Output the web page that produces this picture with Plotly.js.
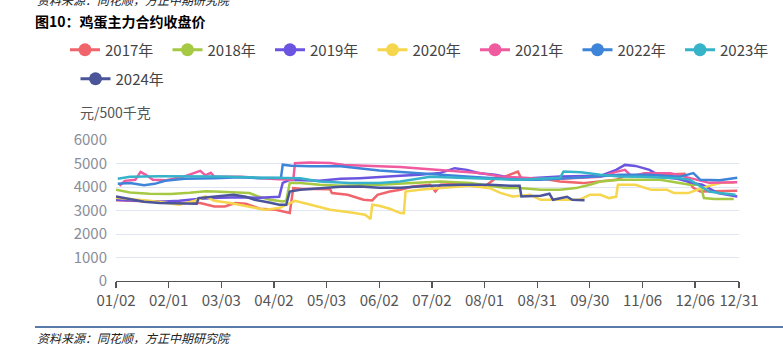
<!DOCTYPE html>
<html>
<head>
<meta charset="utf-8">
<script src="https://cdn.plot.ly/plotly-3.0.1.min.js"></script>
<style>
html,body{margin:0;padding:0;background:#fff;}
#chart{width:783px;height:351px;}
</style>
</head>
<body>
<div id="chart"></div>
<script>
// x = trading-day position along the year (axis categories), y = close price (元/500千克)
const tickPositions = [0,30,60,90,120,150,180,210,240,270,300,330,355];
const tickLabels = ["01/02","02/01","03/03","04/02","05/03","06/02","07/02","08/01","08/31","09/30","11/06","12/06","12/31"];

const seriesNames = ["2017年","2018年","2019年","2020年","2021年","2022年","2023年","2024年"];
const seriesColors = ["#f0656c","#a6c943","#6b55e0","#f5d64d","#f05a9f","#3e84d8","#36b3c9","#4b5599"];

const x2017 = [0,14,25,36,48,56,62,68,74,82,91,99,101,105,122,123,132,141,146,149,156,162,166,169,179,182,185,196,202,210,216,222,229,231,242,253,266,276,285,290,299,310,324,326,329,333,344,354];
const y2017 = [3435,3414,3372,3329,3316,3172,3172,3316,3287,3075,3032,2890,3950,3923,3902,3740,3668,3456,3427,3668,3808,3880,3953,4020,4093,3808,4093,4135,4050,4020,4350,4450,4657,4350,4376,4232,4165,4232,4305,4474,4517,4517,4559,4232,3965,3808,3808,3838];

const x2018 = [0,8,19,31,42,51,56,68,76,81,88,95,97,99,105,116,128,150,173,185,202,213,222,230,242,253,262,270,276,287,310,316,327,333,335,341,352];
const y2018 = [3880,3766,3711,3698,3753,3817,3808,3774,3740,3596,3456,3384,3414,4165,4165,4093,4050,4093,4165,4232,4165,4050,3953,3953,3880,3880,3953,4093,4232,4305,4305,4232,4093,4093,3528,3486,3486];

const x2019 = [0,14,25,36,48,59,71,82,93,95,99,116,128,139,150,162,173,185,193,200,207,216,225,236,253,276,285,290,296,304,311,320,329,334,343,354];
const y2019 = [3456,3414,3372,3414,3499,3541,3562,3541,3584,4177,4305,4262,4347,4376,4411,4474,4517,4601,4801,4729,4589,4517,4389,4376,4445,4474,4729,4941,4898,4729,4420,4350,4165,4100,3740,3596];

const x2020 = [0,8,19,28,36,45,51,56,65,76,85,93,99,102,111,122,133,142,145,146,150,156,162,164,165,173,185,202,213,219,226,236,242,264,270,276,281,285,286,296,305,314,318,326,334,338,345,352];
const y2020 = [3541,3499,3414,3329,3244,3414,3596,3414,3316,3160,3032,3104,3316,3414,3244,3032,2926,2820,2638,3244,3202,3075,2892,2884,3808,3880,3953,4050,3950,3750,3596,3668,3456,3456,3668,3668,3528,3584,4093,4093,3880,3880,3740,3740,3953,4050,4177,4177];

const x2021 = [2,5,11,14,17,21,28,39,48,51,54,56,71,82,93,101,102,110,122,130,139,150,162,173,185,196,207,219,230,242,253,265,276,285,290,294,301,316,324,330,338,354];
const y2021 = [4050,4262,4305,4644,4517,4305,4283,4453,4686,4495,4601,4445,4432,4368,4326,4305,5013,5047,5025,4941,4919,4877,4856,4792,4729,4686,4601,4445,4389,4347,4347,4389,4432,4644,4729,4445,4589,4589,4432,4305,4177,4199];

const x2022 = [1,8,16,22,28,39,56,71,82,94,95,100,111,128,150,169,185,202,219,230,242,253,265,276,287,304,321,329,333,344,354];
const y2022 = [4135,4165,4071,4135,4262,4347,4368,4411,4376,4389,4950,4900,4880,4880,4700,4589,4517,4432,4347,4305,4305,4347,4411,4453,4517,4517,4432,4589,4305,4283,4389];

const x2023 = [1,8,25,48,59,76,93,105,116,133,150,162,179,196,213,230,242,253,255,265,276,287,299,310,321,327,333,338,344,353];
const y2023 = [4347,4432,4453,4453,4445,4411,4389,4376,4232,4165,4165,4232,4432,4389,4347,4305,4347,4389,4657,4623,4517,4445,4432,4389,4376,4305,4050,3808,3740,3668];

const x2024 = [0,8,16,25,34,44,46,47,56,67,74,79,88,93,97,99,105,116,128,139,150,162,179,196,213,225,230,231,242,247,249,257,260,267];
const y2024 = [3596,3499,3372,3316,3308,3287,3287,3528,3596,3668,3584,3456,3329,3244,3244,3808,3880,3953,4008,4020,3965,3965,4050,4093,4093,4050,4050,3596,3626,3711,3456,3584,3456,3435];

const xs = [x2017,x2018,x2019,x2020,x2021,x2022,x2023,x2024];
const ys = [y2017,y2018,y2019,y2020,y2021,y2022,y2023,y2024];

const traces = [];
for (let i = 0; i < seriesNames.length; i++) {
  traces.push({
    type: 'scatter', mode: 'lines', x: xs[i], y: ys[i], name: seriesNames[i],
    line: {color: seriesColors[i], width: 2.5}, showlegend: false, hoverinfo: 'skip'
  });
}
// legend entries (line + circle), 2024 on its own second row
for (let i = 0; i < seriesNames.length; i++) {
  traces.push({
    type: 'scatter', mode: 'lines+markers', x: [null], y: [null], name: seriesNames[i],
    line: {color: seriesColors[i], width: 3}, marker: {color: seriesColors[i], size: 13},
    showlegend: true, legend: i === 7 ? 'legend2' : 'legend'
  });
}

const legendCommon = {
  orientation: 'h', xanchor: 'left', yanchor: 'middle',
  font: {family: 'Noto Sans CJK SC, Noto Sans, sans-serif', size: 15, color: '#444'},
  bgcolor: 'rgba(0,0,0,0)', entrywidth: 57.5, entrywidthmode: 'pixels',
  itemclick: false, itemdoubleclick: false
};

const layout = {
  width: 783, height: 351,
  margin: {l: 116, r: 44, t: 140, b: 70},
  paper_bgcolor: '#fff', plot_bgcolor: '#fff',
  font: {family: 'Noto Sans CJK SC, Noto Sans, sans-serif', color: '#444'},
  title: {
    text: '<b>图10：鸡蛋主力合约收盘价</b>',
    x: 35/783, xref: 'container', xanchor: 'left',
    y: 1 - 22/351, yref: 'container', yanchor: 'middle',
    font: {size: 14, color: '#000', family: 'Noto Sans CJK SC, sans-serif'}
  },
  legend: Object.assign({}, legendCommon, {x: -0.065, y: (281 - 50) / 141}),
  legend2: Object.assign({}, legendCommon, {x: -0.065, y: (281 - 79) / 141}),
  xaxis: {
    range: [0, 355], showgrid: false, zeroline: false,
    showline: true, linecolor: '#555', linewidth: 1.3,
    tickmode: 'array', tickvals: tickPositions, ticktext: tickLabels,
    ticks: 'outside', ticklen: 6, tickcolor: '#555', tickwidth: 1.3,
    tickfont: {size: 15, color: '#555', family: 'Noto Sans CJK SC, sans-serif'}
  },
  yaxis: {
    range: [0, 6000], dtick: 1000, tick0: 0,
    showgrid: true, gridcolor: '#e0e6f1', gridwidth: 1, zeroline: false, showline: false,
    ticks: '', ticklabelstandoff: 8,
    tickfont: {size: 15, color: '#8a8d99', family: 'Noto Sans CJK SC, sans-serif'}
  },
  annotations: [
    {text: '元/500千克', xref: 'paper', yref: 'paper', x: (78 - 116) / 623, y: (281 - 112) / 141,
     xanchor: 'left', yanchor: 'middle', showarrow: false,
     font: {size: 14, color: '#555', family: 'Noto Sans CJK SC, sans-serif'}},
    {text: '资料来源：同花顺，方正中期研究院', xref: 'paper', yref: 'paper', x: (35 - 116) / 623, y: (281 - 337) / 141,
     xanchor: 'left', yanchor: 'middle', showarrow: false,
     font: {size: 12, color: '#222', style: 'italic', family: 'Noto Sans CJK SC, sans-serif'}},
    {text: '资料来源：同花顺，方正中期研究院', xref: 'paper', yref: 'paper', x: (35 - 116) / 623, y: (281 + 1) / 141,
     xanchor: 'left', yanchor: 'middle', showarrow: false,
     font: {size: 12, color: '#222', style: 'italic', family: 'Noto Sans CJK SC, sans-serif'}}
  ],
  shapes: [
    {type: 'line', xref: 'paper', yref: 'paper', x0: (35 - 116) / 623, x1: (783 - 116) / 623,
     y0: (281 - 327) / 141, y1: (281 - 327) / 141, line: {color: '#1f4e8c', width: 1.5}}
  ]
};

Plotly.newPlot('chart', traces, layout, {displayModeBar: false, staticPlot: true});
</script>
</body>
</html>
